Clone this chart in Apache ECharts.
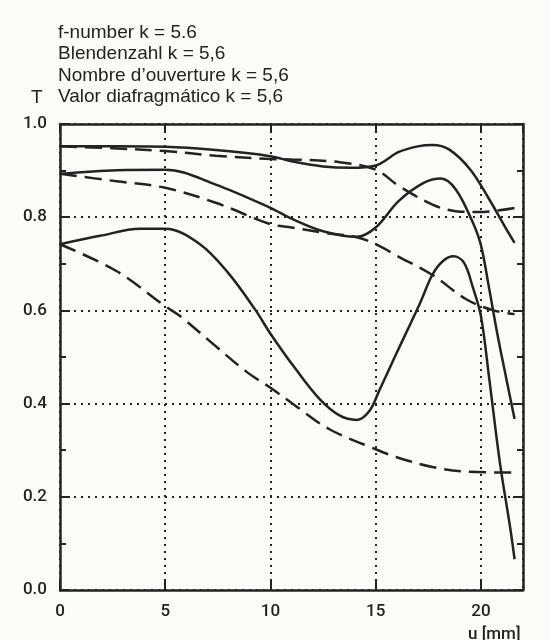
<!DOCTYPE html>
<html>
<head>
<meta charset="utf-8">
<title>T - u, k = 5.6</title>
<script src="https://cdn.jsdelivr.net/npm/echarts@6.0.0/dist/echarts.min.js"></script>
<style>
html, body { margin: 0; padding: 0; background: #fbfbf7; }
#chart { width: 550px; height: 640px; }
</style>
</head>
<body>
<div id="chart"></div>
<script>
// axis ticks
var xTicks = [0, 5, 10, 15, 20];
var yTicks = [0.0, 0.2, 0.4, 0.6, 0.8, 1.0];

// curve A: solid, top
var uA = [0, 2.5, 5, 7.4, 10, 11, 12.5, 13.8, 15, 16.1, 17, 17.7, 18.5, 19.5, 20.4, 21.2, 21.6];
var tA = [0.952, 0.952, 0.951, 0.944, 0.931, 0.920, 0.909, 0.906, 0.911, 0.940, 0.952, 0.955, 0.945, 0.902, 0.838, 0.775, 0.745];
// curve B: dashed, top
var uB = [0, 2.5, 5, 7.4, 10, 11, 13.3, 15, 16.1, 17.7, 18.8, 19.9, 21.6];
var tB = [0.952, 0.948, 0.942, 0.932, 0.925, 0.924, 0.918, 0.902, 0.867, 0.827, 0.813, 0.811, 0.820];
// curve C: solid, middle
var uC = [0, 2.7, 5, 7.4, 10, 11, 12.5, 14.1, 15, 16.1, 17.3, 18.1, 18.8, 19.6, 20, 20.4, 20.8, 21.2, 21.6];
var tC = [0.893, 0.901, 0.902, 0.870, 0.820, 0.797, 0.770, 0.758, 0.778, 0.835, 0.874, 0.883, 0.860, 0.790, 0.740, 0.645, 0.545, 0.455, 0.367];
// curve D: dashed, middle
var uD = [0, 2.7, 5, 7.4, 10, 11, 12.5, 14.1, 15, 16.1, 17.7, 19.3, 20.6, 21.6];
var tD = [0.893, 0.877, 0.863, 0.831, 0.785, 0.778, 0.767, 0.757, 0.742, 0.715, 0.676, 0.624, 0.600, 0.592];
// curve E: solid, bottom
var uE = [0, 1.9, 3.8, 5, 6.65, 8, 9.3, 10, 11.2, 12.35, 13.3, 14.1, 14.7, 15.2, 16, 17.1, 17.7, 18.2, 18.7, 19.2, 19.6, 20, 20.4, 20.9, 21.4, 21.6];
var tE = [0.742, 0.760, 0.775, 0.775, 0.742, 0.680, 0.600, 0.550, 0.474, 0.409, 0.374, 0.365, 0.384, 0.431, 0.509, 0.615, 0.677, 0.706, 0.716, 0.702, 0.652, 0.588, 0.452, 0.274, 0.131, 0.066];
// curve F: dashed, bottom
var uF = [0, 2.7, 5, 5.7, 7.3, 8.9, 10, 11.2, 12.8, 15, 16, 17.7, 19.3, 21.6];
var tF = [0.742, 0.684, 0.609, 0.588, 0.527, 0.467, 0.434, 0.395, 0.345, 0.302, 0.285, 0.264, 0.254, 0.252];

var titleLines = ['f-number k = 5.6', 'Blendenzahl k = 5,6', 'Nombre d\u2019ouverture k = 5,6', 'Valor diafragm\u00e1tico k = 5,6'];

var ink = '#232323';
var dash = [17, 8];
var dots = [2, 5];

function pairs(u, t) {
	var out = [];
	for (var i = 0; i < u.length; i++) {
		out.push([u[i], t[i]]);
	}
	return out;
}

function curve(name, u, t, dashed) {
	return {
		name: name,
		type: 'line',
		xAxisIndex: 0,
		yAxisIndex: 0,
		data: pairs(u, t),
		smooth: 0.35,
		showSymbol: false,
		symbol: 'none',
		silent: true,
		lineStyle: { color: ink, width: 2.5, type: dashed ? dash : 'solid', cap: 'butt' },
		z: 3
	};
}

var labelFont = { color: ink, fontSize: 17, fontFamily: 'Roboto', fontWeight: 500 };
var textFont = '19px "Liberation Sans", Arial, sans-serif';

var chart = echarts.init(document.getElementById('chart'), null, { renderer: 'canvas' });

var graphics = [];
for (var i = 0; i < titleLines.length; i++) {
	graphics.push({
		type: 'text', left: 58, top: 23 + i * 21.5,
		style: { text: titleLines[i], fill: ink, font: textFont }
	});
}
graphics.push({ type: 'text', left: 31, top: 88, style: { text: 'T', fill: ink, font: textFont } });
graphics.push({ type: 'text', left: 468, top: 626, style: { text: 'u [mm]', fill: ink, font: '500 17px Roboto, sans-serif' } });

var option = {
	backgroundColor: '#fbfbf7',
	animation: false,
	grid: { left: 60, right: 27, top: 124, bottom: 50 },
	graphic: graphics,
	xAxis: [
		{
			type: 'value', position: 'bottom', min: xTicks[0], max: 22, interval: 5,
			axisLine: { show: true, onZero: false, lineStyle: { color: ink, width: 2.5 } },
			axisTick: { show: true, inside: true, length: 9, lineStyle: { color: ink, width: 2 } },
			axisLabel: Object.assign({ margin: 13, showMaxLabel: false, formatter: function(v){ return xTicks.indexOf(v) >= 0 ? String(v) : ''; } }, labelFont),
			splitLine: { show: true, lineStyle: { color: ink, width: 2, type: dots } }
		},
		{
			type: 'value', position: 'top', min: xTicks[0], max: 22, interval: 5,
			axisLine: { show: true, onZero: false, lineStyle: { color: ink, width: 2.5 } },
			axisTick: { show: true, inside: true, length: 9, lineStyle: { color: ink, width: 2 } },
			axisLabel: { show: false },
			splitLine: { show: false }
		}
	],
	yAxis: [
		{
			type: 'value', position: 'left', min: yTicks[0], max: yTicks[yTicks.length - 1], interval: 0.2,
			axisLine: { show: true, onZero: false, lineStyle: { color: ink, width: 2.5 } },
			axisTick: { show: true, inside: true, length: 10, lineStyle: { color: ink, width: 2 } },
			minorTick: { show: true, splitNumber: 2, length: 6, lineStyle: { color: ink, width: 2 } },
			axisLabel: Object.assign({ margin: 13, formatter: function(v){ return v.toFixed(1); } }, labelFont),
			splitLine: { show: true, lineStyle: { color: ink, width: 2, type: dots } }
		},
		{
			type: 'value', position: 'right', min: yTicks[0], max: yTicks[yTicks.length - 1], interval: 0.2,
			axisLine: { show: true, onZero: false, lineStyle: { color: ink, width: 2.5 } },
			axisTick: { show: true, inside: true, length: 10, lineStyle: { color: ink, width: 2 } },
			minorTick: { show: true, splitNumber: 2, length: 6, lineStyle: { color: ink, width: 2 } },
			axisLabel: { show: false },
			splitLine: { show: false }
		}
	],
	series: [
		curve('A', uA, tA, false),
		curve('B', uB, tB, true),
		curve('C', uC, tC, false),
		curve('D', uD, tD, true),
		curve('E', uE, tE, false),
		curve('F', uF, tF, true)
	]
};
chart.setOption(option);
</script>
</body>
</html>
